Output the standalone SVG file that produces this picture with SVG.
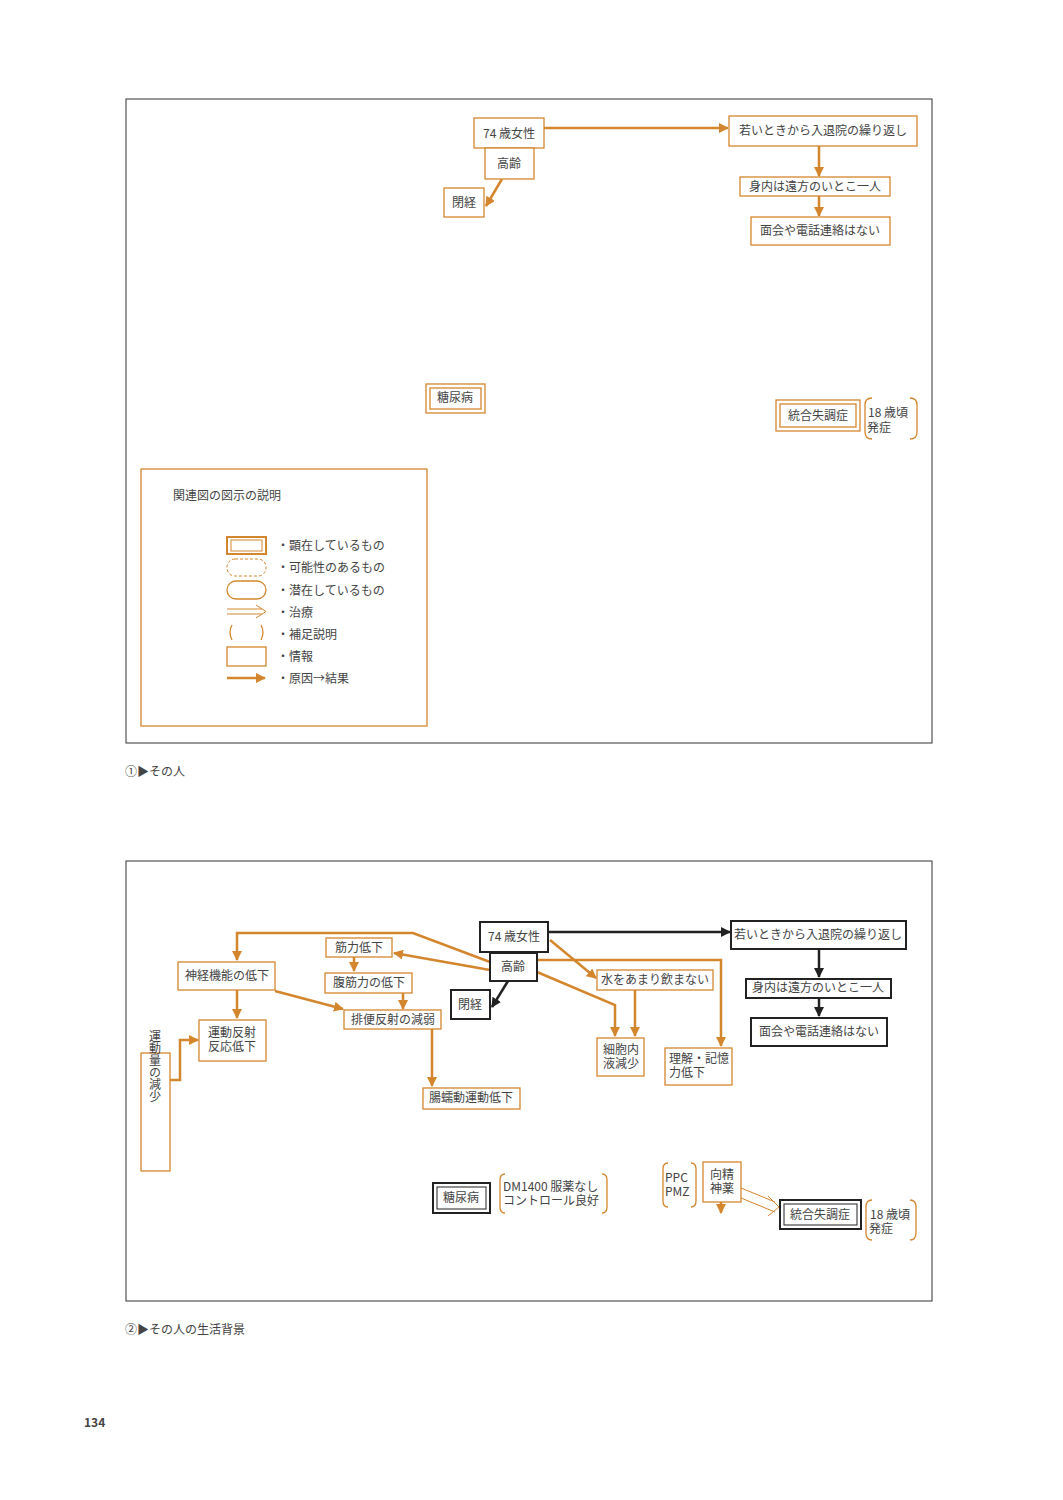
<svg xmlns="http://www.w3.org/2000/svg" width="1063" height="1500" viewBox="0 0 1063 1500">
<defs>
<style>
text{font-family:"Noto Sans CJK JP","Liberation Sans",sans-serif;fill:#444;font-size:12px}
.o{fill:#fff;stroke:#d4862e;stroke-width:1.3}
.k{fill:#fff;stroke:#222;stroke-width:2}
.ol{fill:none;stroke:#d4862e;stroke-width:2.5}
.kl{fill:none;stroke:#222;stroke-width:2.5}
.p{fill:none;stroke:#d4862e;stroke-width:1.3}
.fr{fill:none;stroke:#333;stroke-width:1}
.c{text-anchor:middle}
</style>
<marker id="ao" viewBox="0 0 10 10" refX="9" refY="5" markerWidth="4" markerHeight="4" orient="auto"><path d="M0,0L10,5L0,10z" fill="#d4862e"/></marker>
<marker id="ak" viewBox="0 0 10 10" refX="9" refY="5" markerWidth="4" markerHeight="4" orient="auto"><path d="M0,0L10,5L0,10z" fill="#222"/></marker>
</defs>
<rect width="1063" height="1500" fill="#fff"/>
<!-- Diagram 1 -->
<rect class="fr" x="126" y="99" width="806" height="644"/>
<g id="connectors1">
<path class="ol" d="M544,128H728" marker-end="url(#ao)"/>
<path class="ol" d="M502,179L486,206" marker-end="url(#ao)"/>
<path class="ol" d="M819,146V176" marker-end="url(#ao)"/>
<path class="ol" d="M819,196V216" marker-end="url(#ao)"/>
</g>
<g id="n1-74"><rect class="o" x="474" y="118" width="70" height="30"/><text x="509" y="138" class="c" font-size="13">74 歳女性</text></g>
<g id="n1-kourei"><rect class="o" x="485" y="148" width="49" height="31"/><text x="509" y="168" class="c">高齢</text></g>
<g id="n1-heikei"><rect class="o" x="444" y="188" width="40" height="29"/><text x="464" y="207" class="c">閉経</text></g>
<g id="n1-wakai"><rect class="o" x="729" y="116" width="188" height="30"/><text x="823" y="135" class="c" font-size="13">若いときから入退院の繰り返し</text></g>
<g id="n1-miuchi"><rect class="o" x="740" y="177" width="150" height="19"/><text x="815" y="191" class="c">身内は遠方のいとこ一人</text></g>
<g id="n1-menkai"><rect class="o" x="751" y="217" width="139" height="28"/><text x="820" y="235" class="c">面会や電話連絡はない</text></g>
<g id="n1-tonyo"><rect class="o" x="426" y="384" width="59" height="29" stroke-width="2.5"/><rect class="o" x="430" y="388" width="51" height="21"/><text x="455" y="402" class="c">糖尿病</text></g>
<g id="n1-togo"><rect class="o" x="776" y="400" width="84" height="31" stroke-width="2.5"/><rect class="o" x="780" y="404" width="76" height="23"/><text x="818" y="420" class="c">統合失調症</text></g>
<g id="n1-18"><path class="p" d="M872,398Q865,398 865,405V432Q865,439 872,439M910,398Q917,398 917,405V432Q917,439 910,439"/><text x="868" y="417" font-size="13">18 歳頃</text><text x="867" y="432">発症</text></g>
<g id="legend">
<rect class="o" x="141" y="469" width="286" height="257"/>
<text x="173" y="500" font-size="13">関連図の図示の説明</text>
<rect x="227" y="537" width="39" height="17" fill="none" stroke="#d4862e" stroke-width="2"/><rect x="231" y="540" width="31" height="11" fill="none" stroke="#d4862e" stroke-width="1"/>
<rect x="227" y="559" width="39" height="17" rx="8" fill="none" stroke="#d4862e" stroke-dasharray="3,2"/>
<rect x="227" y="581" width="39" height="18" rx="9" fill="none" stroke="#d4862e" stroke-width="1.3"/>
<path d="M227,609H262M227,614H262M256,605L266,611.5L256,618" fill="none" stroke="#d4862e"/>
<path class="p" d="M232,625Q228,632 232,640M261,625Q265,632 261,640"/>
<rect x="227" y="647" width="39" height="19" fill="none" stroke="#d4862e" stroke-width="1.3"/>
<path class="ol" d="M227,678H265" marker-end="url(#ao)"/>
<g font-size="13">
<text x="277" y="550">・顕在しているもの</text><text x="277" y="572">・可能性のあるもの</text><text x="277" y="595">・潜在しているもの</text><text x="277" y="617">・治療</text><text x="277" y="639">・補足説明</text><text x="277" y="661">・情報</text><text x="277" y="683">・原因→結果</text>
</g>
</g>
<text x="125" y="776" font-size="16" fill="#222">①▶その人</text>
<!-- Diagram 2 -->
<rect class="fr" x="126" y="861" width="806" height="440"/>
<g id="connectors2">
<path class="kl" d="M548,932H730" marker-end="url(#ak)"/>
<path class="kl" d="M819,949V977" marker-end="url(#ak)"/>
<path class="kl" d="M819,998V1016" marker-end="url(#ak)"/>
<path class="kl" d="M508,981L492,1007" marker-end="url(#ak)"/>
<path class="ol" d="M550,940L596,978" marker-end="url(#ao)"/>
<path class="ol" d="M537,972L615,1005V1036" marker-end="url(#ao)"/>
<path class="ol" d="M635,990V1036" marker-end="url(#ao)"/>
<path class="ol" d="M537,960H721V1046" marker-end="url(#ao)"/>
<path class="ol" d="M490,970L394,953" marker-end="url(#ao)"/>
<path class="ol" d="M490,962L413,933H237V960" marker-end="url(#ao)"/>
<path class="ol" d="M354,957V971" marker-end="url(#ao)"/>
<path class="ol" d="M403,993V1009" marker-end="url(#ao)"/>
<path class="ol" d="M275,991L343,1009" marker-end="url(#ao)"/>
<path class="ol" d="M237,990V1018" marker-end="url(#ao)"/>
<path class="ol" d="M432,1029V1086" marker-end="url(#ao)"/>
<path class="ol" d="M170,1080H180V1040H198" marker-end="url(#ao)"/>
<path class="ol" d="M721,1202V1213" marker-end="url(#ao)"/>
<path d="M741,1188L775,1202M741,1198L775,1212M768,1196L779,1207L768,1216" fill="none" stroke="#d4862e"/>
</g>
<g id="n2-74"><rect class="k" x="480" y="922" width="68" height="30"/><text x="514" y="941" class="c" font-size="13">74 歳女性</text></g>
<g id="n2-kourei"><rect class="k" x="490" y="953" width="47" height="28"/><text x="513" y="971" class="c">高齢</text></g>
<g id="n2-heikei"><rect class="k" x="451" y="990" width="39" height="29"/><text x="470" y="1009" class="c">閉経</text></g>
<g id="n2-wakai"><rect class="k" x="731" y="921" width="175" height="28"/><text x="818" y="939" class="c">若いときから入退院の繰り返し</text></g>
<g id="n2-miuchi"><rect class="k" x="746" y="979" width="145" height="19"/><text x="818" y="992" class="c">身内は遠方のいとこ一人</text></g>
<g id="n2-menkai"><rect class="k" x="751" y="1018" width="136" height="28"/><text x="819" y="1036" class="c">面会や電話連絡はない</text></g>
<g id="n2-mizu"><rect class="o" x="597" y="970" width="116" height="20"/><text x="655" y="984" class="c">水をあまり飲まない</text></g>
<g id="n2-saibou"><rect class="o" x="597" y="1038" width="47" height="38"/><text x="603" y="1054" font-size="11">細胞内</text><text x="603" y="1068" font-size="11">液減少</text></g>
<g id="n2-rikai"><rect class="o" x="665" y="1048" width="67" height="37"/><text x="669" y="1063" font-size="11">理解・記憶</text><text x="669" y="1077" font-size="11">力低下</text></g>
<g id="n2-kinryoku"><rect class="o" x="326" y="938" width="66" height="19"/><text x="359" y="952" class="c" font-size="11">筋力低下</text></g>
<g id="n2-shinkei"><rect class="o" x="178" y="962" width="97" height="28"/><text x="227" y="980" class="c" font-size="11">神経機能の低下</text></g>
<g id="n2-fukkin"><rect class="o" x="325" y="973" width="87" height="20"/><text x="369" y="987" class="c" font-size="11">腹筋力の低下</text></g>
<g id="n2-haiben"><rect class="o" x="344" y="1010" width="97" height="19"/><text x="393" y="1024" class="c" font-size="11">排便反射の減弱</text></g>
<g id="n2-undohansha"><rect class="o" x="199" y="1020" width="67" height="41"/><text x="232" y="1037" class="c" font-size="11">運動反射</text><text x="232" y="1051" class="c" font-size="11">反応低下</text></g>
<g id="n2-chou"><rect class="o" x="423" y="1088" width="97" height="21"/><text x="471" y="1102" class="c" font-size="11">腸蠕動運動低下</text></g>
<g id="n2-undoryo"><rect class="o" x="141" y="1053" width="29" height="118"/><text x="155" y="1066" class="c" font-size="11" writing-mode="vertical-rl" style="writing-mode:vertical-rl">運動量の減少</text></g>
<g id="n2-tonyo"><rect x="433" y="1183" width="57" height="30" fill="#fff" stroke="#222" stroke-width="2"/><rect x="437" y="1187" width="49" height="22" fill="none" stroke="#222" stroke-width="1"/><text x="461" y="1202" class="c" font-size="11">糖尿病</text></g>
<g id="n2-dm"><path class="p" d="M505,1174Q500,1174 500,1180V1207Q500,1213 505,1213M602,1174Q607,1174 607,1180V1207Q607,1213 602,1213"/><text x="503" y="1191">DM1400 服薬なし</text><text x="503" y="1205">コントロール良好</text></g>
<g id="n2-ppc"><path class="p" d="M668,1163Q663,1163 663,1169V1201Q663,1207 668,1207M691,1163Q696,1163 696,1169V1201Q696,1207 691,1207"/><text x="665" y="1182">PPC</text><text x="665" y="1196">PMZ</text></g>
<g id="n2-kouseishin"><rect class="o" x="703" y="1162" width="38" height="40"/><text x="722" y="1179" class="c" font-size="11">向精</text><text x="722" y="1193" class="c" font-size="11">神薬</text></g>
<g id="n2-togo"><rect x="780" y="1200" width="81" height="29" fill="#fff" stroke="#222" stroke-width="2"/><rect x="784" y="1204" width="73" height="21" fill="none" stroke="#222" stroke-width="1"/><text x="820" y="1219" class="c" font-size="11">統合失調症</text></g>
<g id="n2-18"><path class="p" d="M872,1200Q866,1200 866,1207V1233Q866,1240 872,1240M910,1200Q916,1200 916,1207V1233Q916,1240 910,1240"/><text x="870" y="1219">18 歳頃</text><text x="869" y="1233">発症</text></g>
<text x="125" y="1334" font-size="16" fill="#222">②▶その人の生活背景</text>
<text x="84" y="1427" font-size="16" font-weight="bold" fill="#222">134</text>
</svg>
